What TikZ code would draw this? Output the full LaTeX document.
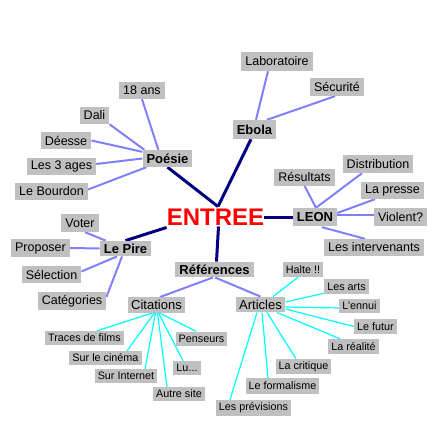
\documentclass[tikz,border=0pt]{standalone}
\usepackage{fontspec}
\setmainfont{Liberation Sans}
\usetikzlibrary{calc,backgrounds}
\definecolor{boxgray}{HTML}{C0C0C0}
\definecolor{mainline}{HTML}{000080}
\definecolor{subline}{HTML}{8080FF}
\definecolor{leafline}{HTML}{00FFFF}
\tikzset{
  hub/.style={fill=boxgray, inner xsep=4pt, inner ysep=0pt, minimum height=17pt, font=\fontsize{13}{15}\selectfont\bfseries},
  leaf/.style={fill=boxgray, inner xsep=4pt, inner ysep=0pt, minimum height=17pt, font=\fontsize{12.5}{14}\selectfont},
  mid/.style={fill=boxgray, inner xsep=3.5pt, inner ysep=0pt, minimum height=15.5pt, font=\fontsize{13}{15}\selectfont},
  tiny/.style={fill=boxgray, inner xsep=3pt, inner ysep=0pt, minimum height=14pt, font=\fontsize{10.8}{12}\selectfont},
  mainlink/.style={draw=mainline, line width=3pt},
  sublink/.style={draw=subline, line width=2pt},
  leaflink/.style={draw=leafline, line width=1.2pt},
}
\begin{document}
\begin{tikzpicture}[x=1pt,y=-1pt]
\useasboundingbox (0,0) rectangle (440,440);
% centre
\node[inner sep=0pt, text=red, font=\fontsize{24}{26}\selectfont\bfseries] (E) at (215.5,217) {ENTREE};
% hubs
\node[hub] (poesie) at (167.5,158.5) {Poésie};
\node[hub, minimum height=19pt] (ebola) at (254.5,129.5) {Ebola};
\node[hub, minimum height=18pt] (leon) at (315,217) {LEON};
\node[hub, minimum height=15.5pt] (lepire) at (125.5,248.5) {Le Pire};
\node[hub, minimum height=15.5pt] (ref) at (214.5,269.5) {Références};
% Poésie leaves
\node[leaf] (ans) at (142,90.5) {18 ans};
\node[leaf] (dali) at (94.5,115.5) {Dali};
\node[leaf] (deesse) at (66,140.5) {Déesse};
\node[leaf] (ages) at (61.5,166) {Les 3 ages};
\node[leaf] (bourdon) at (51.5,191.5) {Le Bourdon};
% Ebola leaves
\node[leaf, minimum height=19pt] (labo) at (277,61.5) {Laboratoire};
\node[leaf, minimum height=18pt] (secu) at (337,87) {Sécurité};
% LEON leaves
\node[leaf] (res) at (304.5,177) {Résultats};
\node[leaf, minimum height=18pt] (dist) at (378,164) {Distribution};
\node[leaf] (presse) at (392.5,190.5) {La presse};
\node[leaf, minimum height=18pt] (violent) at (400.5,217) {Violent?};
\node[leaf] (inter) at (374,247.5) {Les intervenants};
% Le Pire leaves
\node[leaf, minimum height=18pt] (voter) at (80,223) {Voter};
\node[leaf, minimum height=18pt] (proposer) at (40.5,248) {Proposer};
\node[leaf] (selection) at (51.5,274.5) {Sélection};
\node[leaf, minimum height=18pt] (categories) at (72,301) {Catégories};
% Références
\node[mid] (cit) at (156.5,305) {Citations};
\node[mid] (art) at (260.5,304.5) {Articles};
% Citations leaves
\node[tiny] (traces) at (84.5,338) {Traces de films};
\node[tiny] (cinema) at (105.5,358) {Sur le cinéma};
\node[tiny] (internet) at (126,376) {Sur Internet};
\node[tiny] (autre) at (179,394) {Autre site};
\node[tiny] (lu) at (187,368) {Lu...};
\node[tiny] (penseurs) at (201.5,338.5) {Penseurs};
% Articles leaves
\node[tiny, minimum height=15pt] (halte) at (303,269.5) {Halte !!};
\node[tiny, minimum height=15pt] (arts) at (346.5,286.5) {Les arts};
\node[tiny] (ennui) at (359.5,306) {L'ennui};
\node[tiny, minimum height=15pt] (futur) at (375.5,326.5) {Le futur};
\node[tiny, minimum height=15pt] (realite) at (353.5,346.5) {La réalité};
\node[tiny, minimum height=15pt] (critique) at (303.5,366.5) {La critique};
\node[tiny, minimum height=16pt] (formalisme) at (282.5,386) {Le formalisme};
\node[tiny, minimum height=16pt] (previsions) at (253.5,408) {Les prévisions};

\begin{scope}[on background layer]
% main links
\coordinate (top) at ($(E.north)+(2.5,-2)$);
\draw[mainlink] (poesie.south) -- (top);
\draw[mainlink] ($(ebola.south)+(-3.5,0)$) -- (top);
\draw[mainlink] (E.east) -- (leon.west);
\draw[mainlink] ($(E.south west)+(0,2)$) -- (lepire.north);
\draw[mainlink] ($(E.south)+(3,1)$) -- ($(ref.north)+(2,0)$);
% Poésie
\draw[sublink] (ans.south) -- ($(poesie.north west)+(16,0)$);
\draw[sublink] (dali.south east) -- ($(poesie.north west)+(2,0)$);
\draw[sublink] (deesse.east) -- ($(poesie.north west)+(0,2)$);
\draw[sublink] ($(ages.east)+(0,-2)$) -- (poesie.west);
\draw[sublink] ($(bourdon.east)+(0,-2)$) -- ($(poesie.south west)+(4,0)$);
% Ebola
\draw[sublink] ($(labo.south)+(-9,0)$) -- ($(ebola.north)+(1.5,0)$);
\draw[sublink] ($(secu.south)+(-2,0)$) -- ($(ebola.north)+(12.5,0)$);
% LEON
\draw[sublink] (res.south) -- ($(leon.north)+(1,0)$);
\draw[sublink] ($(dist.south)+(-16,0)$) -- ($(leon.north)+(1,0)$);
\draw[sublink] ($(presse.south)+(-17.5,0)$) -- ($(leon.east)+(0,-4)$);
\draw[sublink] ($(violent.west)+(0,-2)$) -- ($(leon.east)+(0,-2)$);
\draw[sublink] ($(leon.south)+(7,1)$) -- ($(inter.north)+(-9,0)$);
% Le Pire
\draw[sublink] ($(voter.south)+(5,0)$) -- ($(lepire.north west)+(6,0)$);
\draw[sublink] (proposer.east) -- (lepire.west);
\draw[sublink] ($(selection.east)+(0,-3)$) -- ($(lepire.south)+(-8.5,0)$);
\draw[sublink] ($(categories.east)+(0,-4)$) -- ($(lepire.south)+(-3.5,0)$);
% Références
\draw[sublink] ($(ref.south)+(-1.5,0)$) -- ($(cit.north)+(3.5,0)$);
\draw[sublink] ($(ref.south)+(0.5,0)$) -- (art.north);
% Citations
\draw[leaflink] ($(cit.south)+(-4,0)$) -- ($(traces.north)+(12.5,0)$);
\draw[leaflink] ($(cit.south)+(-2,0)$) -- ($(cinema.north)+(21.5,0)$);
\draw[leaflink] ($(cit.south)+(-1,0)$) -- ($(internet.north)+(19,0)$);
\draw[leaflink] ($(cit.south)+(1,0)$) -- ($(autre.north)+(-12,0)$);
\draw[leaflink] ($(cit.south)+(2,0)$) -- ($(lu.north)+(-4,0)$);
\draw[leaflink] ($(cit.south)+(3,0)$) -- ($(penseurs.north)+(-5.5,0)$);
% Articles
\draw[leaflink] ($(art.north)+(12.5,0)$) -- ($(halte.south)+(-5,0)$);
\draw[leaflink] ($(art.east)+(0,-2.5)$) -- ($(arts.south west)+(0,-1)$);
\draw[leaflink] ($(art.east)+(0,2.5)$) -- ($(ennui.west)+(0,2)$);
\draw[leaflink] ($(art.east)+(0,4.5)$) -- (futur.west);
\draw[leaflink] ($(art.south)+(16.5,0)$) -- ($(realite.north)+(-13.5,0)$);
\draw[leaflink] ($(art.south)+(6.5,0)$) -- ($(critique.north)+(-7.5,0)$);
\draw[leaflink] ($(art.south)+(1.5,0)$) -- ($(formalisme.north)+(-14.5,0)$);
\draw[leaflink] ($(art.south)+(-3.5,0)$) -- ($(previsions.north)+(-23.5,0)$);
\end{scope}
\end{tikzpicture}
\end{document}
